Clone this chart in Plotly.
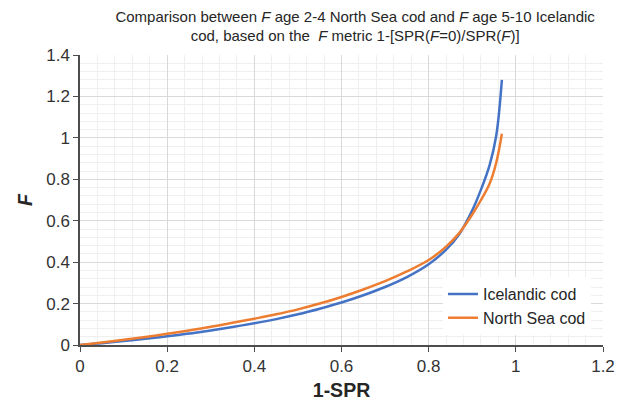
import plotly.graph_objects as go

x_vals = [0, 0.05, 0.1, 0.15, 0.2, 0.25, 0.3, 0.35, 0.4, 0.45, 0.5, 0.55, 0.6,
          0.65, 0.7, 0.75, 0.8, 0.84, 0.87, 0.9, 0.92, 0.94, 0.955, 0.968]
icelandic_F = [0, 0.009, 0.019, 0.03, 0.042, 0.055, 0.07, 0.087, 0.105, 0.125, 0.148,
               0.175, 0.205, 0.24, 0.28, 0.328, 0.39, 0.46, 0.535, 0.65, 0.75, 0.87,
               1.01, 1.28]
northsea_F = [0, 0.012, 0.025, 0.039, 0.054, 0.07, 0.088, 0.107, 0.127, 0.148, 0.172,
              0.2, 0.232, 0.268, 0.308, 0.355, 0.41, 0.475, 0.54, 0.63, 0.70, 0.78,
              0.88, 1.02]

font_family = "Liberation Sans, Arial, sans-serif"

fig = go.Figure()
fig.add_trace(go.Scatter(x=x_vals, y=icelandic_F, mode="lines", name="Icelandic cod",
                         line=dict(color="#4472C4", width=2.5, shape="spline", smoothing=1.0)))
fig.add_trace(go.Scatter(x=x_vals, y=northsea_F, mode="lines", name="North Sea cod",
                         line=dict(color="#ED7D31", width=2.5, shape="spline", smoothing=1.0)))

fig.update_layout(
    width=630, height=404,
    margin=dict(l=72, r=35, t=47, b=67, autoexpand=False),
    paper_bgcolor="white", plot_bgcolor="white",
    font=dict(family=font_family, color="#262626", size=16),
    title=dict(
        text="Comparison between <i>F</i> age 2-4 North Sea cod and <i>F</i> age 5-10 Icelandic<br>cod, based on the  <i>F</i> metric 1-[SPR(<i>F</i>=0)/SPR(<i>F</i>)]",
        x=0.551, xanchor="center", yref="container", y=0.966, yanchor="middle",
        font=dict(size=15, color="#262626", family=font_family),
    ),
    showlegend=True,
    legend=dict(x=0.694, y=0.234, xanchor="left", yanchor="top",
                bgcolor="white", borderwidth=0, font=dict(size=16, color="#262626"),
                tracegroupgap=10, itemwidth=30),
    xaxis=dict(
        range=[0, 1.2], dtick=0.2, tick0=0, automargin=False,
        showgrid=True, gridcolor="#d9d9d9", gridwidth=1,
        minor=dict(dtick=0.04, showgrid=True, gridcolor="#efefef", gridwidth=1),
        showline=True, linecolor="#4d4d4d", linewidth=1.5,
        ticks="outside", ticklen=5, tickcolor="#4d4d4d",
        tickfont=dict(size=17, color="#333333"),
        zeroline=False,
        title=dict(text="<b>1-SPR</b>", font=dict(size=19.5, color="#262626"), standoff=8),
    ),
    yaxis=dict(
        range=[0, 1.4], dtick=0.2, tick0=0, automargin=False,
        showgrid=True, gridcolor="#d9d9d9", gridwidth=1,
        minor=dict(dtick=0.04, showgrid=True, gridcolor="#efefef", gridwidth=1),
        showline=True, linecolor="#4d4d4d", linewidth=1.5,
        ticks="outside", ticklen=5, tickcolor="#4d4d4d",
        tickfont=dict(size=17, color="#333333"),
        zeroline=False,
        title=dict(text="<b><i>F</i></b>", font=dict(size=19.5, color="#262626"), standoff=8),
    ),
)

fig.write_html("out.html")
